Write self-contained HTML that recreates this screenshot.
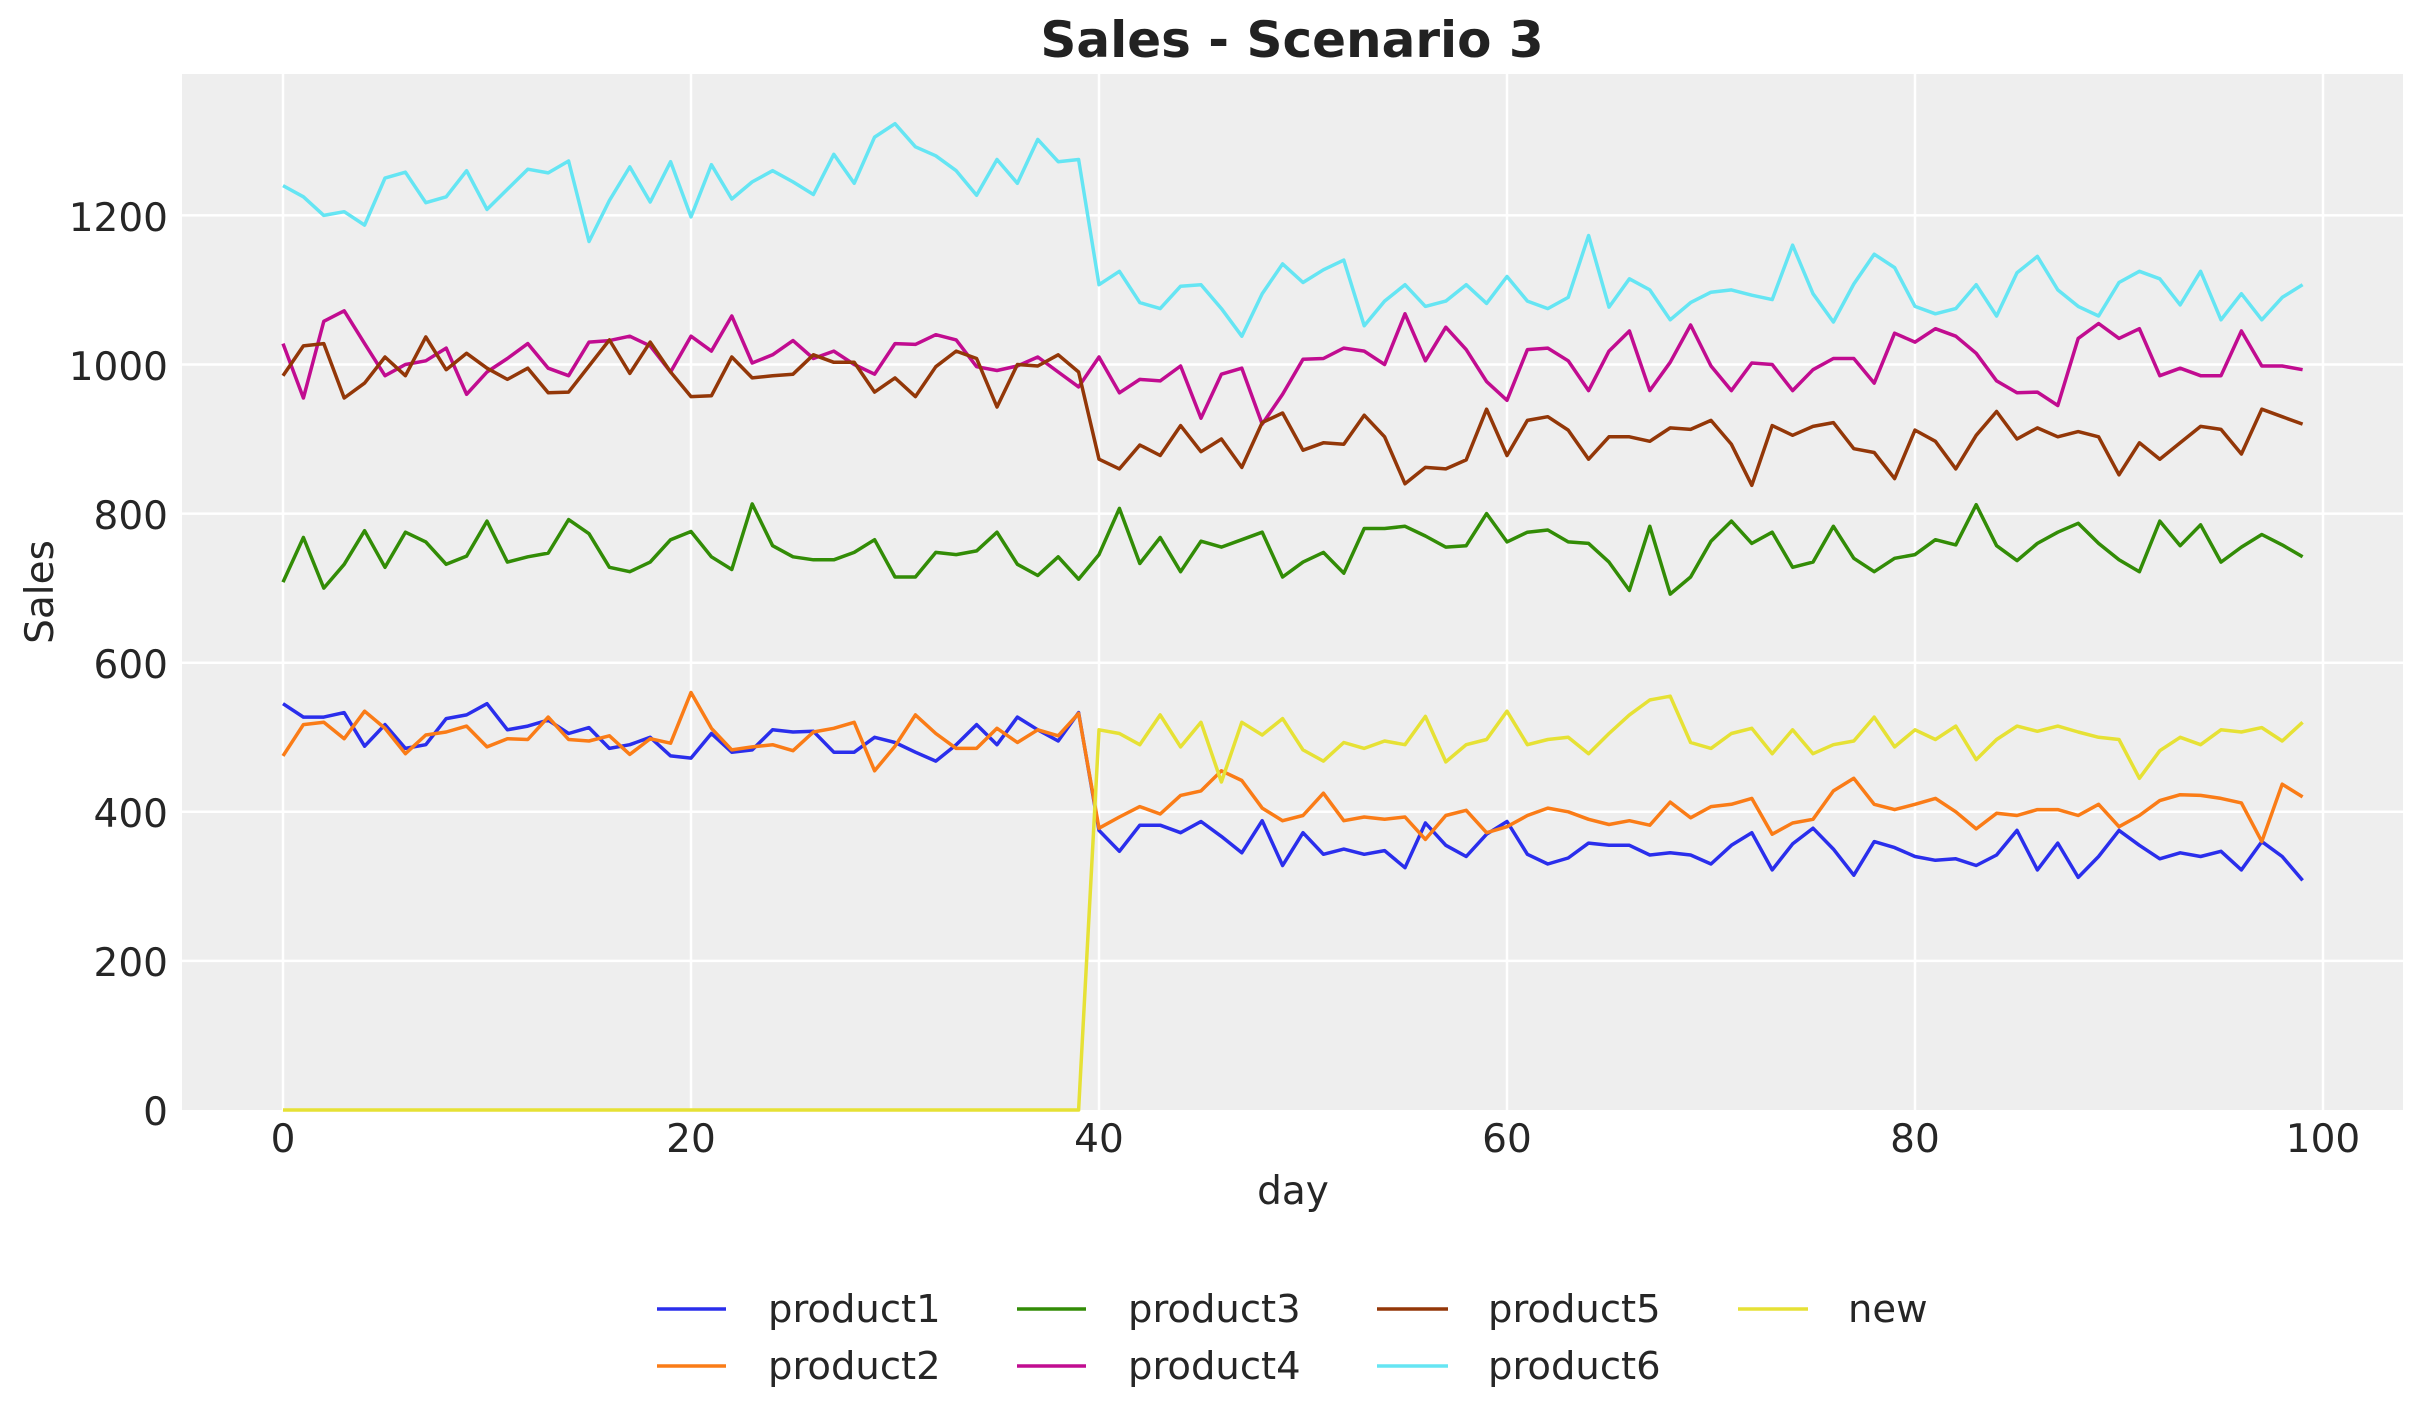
<!DOCTYPE html>
<html><head><meta charset="utf-8"><style>
html,body{margin:0;padding:0;background:#fff;}
svg{display:block;font-family:"DejaVu Sans","Liberation Sans",sans-serif;}
</style></head><body>
<svg id="s" width="2423" height="1423" viewBox="0 0 2423 1423" xmlns="http://www.w3.org/2000/svg">
<rect x="182" y="74" width="2221" height="1036" fill="#eeeeee"/>
<g id="grid"></g>
<g id="lines"></g>
<text x="1292" y="57" font-size="50" font-weight="bold" fill="#222" text-anchor="middle">Sales - Scenario 3</text>
<g font-size="39" fill="#262626" text-anchor="end">
<text x="168" y="1125">0</text><text x="168" y="976">200</text><text x="168" y="827">400</text><text x="168" y="678">600</text><text x="168" y="529">800</text><text x="168" y="380">1000</text><text x="168" y="231">1200</text>
</g>
<g font-size="39" fill="#262626" text-anchor="middle">
<text x="283" y="1152">0</text><text x="691" y="1152">20</text><text x="1099" y="1152">40</text><text x="1507" y="1152">60</text><text x="1915" y="1152">80</text><text x="2323" y="1152">100</text>
</g>
<text x="1293" y="1204" font-size="39" fill="#262626" text-anchor="middle">day</text>
<text transform="translate(53,592) rotate(-90)" font-size="39" fill="#262626" text-anchor="middle">Sales</text>
<g font-size="38.5" fill="#262626">
<line x1="657" y1="1309" x2="726" y2="1309" stroke="#2a2eec" stroke-width="3.5"/><text x="768" y="1322">product1</text>
<line x1="657" y1="1366" x2="726" y2="1366" stroke="#fa7c17" stroke-width="3.5"/><text x="768" y="1379">product2</text>
<line x1="1017" y1="1309" x2="1086" y2="1309" stroke="#328c06" stroke-width="3.5"/><text x="1128" y="1322">product3</text>
<line x1="1017" y1="1366" x2="1086" y2="1366" stroke="#c10c90" stroke-width="3.5"/><text x="1128" y="1379">product4</text>
<line x1="1377" y1="1309" x2="1448" y2="1309" stroke="#933708" stroke-width="3.5"/><text x="1488" y="1322">product5</text>
<line x1="1377" y1="1366" x2="1448" y2="1366" stroke="#65e5f3" stroke-width="3.5"/><text x="1488" y="1379">product6</text>
<line x1="1738" y1="1309" x2="1808" y2="1309" stroke="#e6e135" stroke-width="3.5"/><text x="1848" y="1322">new</text>
</g>
</svg>
<script>
var X=function(d){return 283+d*20.4},Y=function(v){return 1110-v*0.7455};
var g=document.getElementById('grid'),h='';
for(var d=0;d<=100;d+=20)h+='<line x1="'+X(d)+'" y1="74" x2="'+X(d)+'" y2="1110" stroke="#fff" stroke-width="2.5"/>';
for(var v=200;v<=1200;v+=200)h+='<line x1="182" y1="'+Y(v)+'" x2="2403" y2="'+Y(v)+'" stroke="#fff" stroke-width="2.5"/>';
g.innerHTML=h;
var S=[
["#65e5f3",[1240,1225,1200,1205,1187,1250,1258,1217,1225,1260,1208,1235,1262,1257,1273,1165,1220,1265,1218,1272,1198,1268,1222,1245,1260,1245,1228,1282,1243,1305,1323,1292,1280,1260,1227,1275,1243,1302,1272,1275,1107,1125,1083,1075,1105,1107,1075,1038,1095,1135,1110,1127,1140,1052,1085,1107,1078,1085,1107,1082,1118,1085,1075,1090,1173,1077,1115,1100,1060,1083,1097,1100,1093,1087,1160,1095,1057,1108,1148,1130,1078,1068,1075,1107,1065,1123,1145,1100,1078,1065,1110,1125,1115,1080,1125,1060,1095,1060,1090,1107]],
["#c10c90",[1028,955,1058,1072,1028,985,1000,1005,1022,960,990,1008,1028,995,985,1030,1032,1038,1025,990,1038,1018,1065,1002,1013,1032,1008,1018,1000,987,1028,1027,1040,1033,997,992,998,1010,990,970,1010,962,980,978,998,928,987,995,920,960,1007,1008,1022,1018,1000,1068,1005,1050,1020,977,952,1020,1022,1005,965,1018,1045,965,1003,1053,998,965,1002,1000,965,993,1008,1008,975,1042,1030,1048,1038,1015,978,962,963,945,1035,1055,1035,1048,985,995,985,985,1045,998,998,993]],
["#933708",[985,1025,1028,955,975,1010,985,1037,993,1015,995,980,995,962,963,998,1033,988,1030,990,957,958,1010,982,985,987,1013,1003,1003,963,982,957,997,1018,1008,943,1000,998,1013,990,873,860,892,878,918,883,900,862,922,935,885,895,893,932,903,840,862,860,872,940,878,925,930,912,873,903,903,897,915,913,925,893,838,918,905,917,922,887,882,847,912,897,860,905,937,900,915,903,910,903,852,895,873,895,917,913,880,940,930,920]],
["#328c06",[708,768,700,732,777,728,775,762,732,743,790,735,742,747,792,773,728,722,735,765,776,742,725,813,757,742,738,738,748,765,715,715,748,745,750,775,732,717,742,712,745,807,733,768,722,763,755,765,775,715,735,748,720,780,780,783,770,755,757,800,762,775,778,762,760,735,697,783,692,715,763,790,760,775,728,735,783,740,722,740,745,765,758,812,757,737,760,775,787,760,738,722,790,757,785,735,755,772,758,742]],
["#2a2eec",[545,527,527,533,488,517,485,490,525,530,545,510,515,523,505,513,485,490,500,475,472,505,480,483,510,507,508,480,480,500,493,480,468,490,517,490,527,510,495,533,375,347,382,382,372,387,367,345,388,328,372,343,350,343,348,325,385,355,340,370,387,343,330,338,358,355,355,342,345,342,330,355,372,322,357,378,350,315,360,352,340,335,337,328,342,375,322,358,312,340,375,355,337,345,340,347,322,360,340,308]],
["#fa7c17",[475,517,520,498,535,512,478,503,507,515,487,498,497,527,497,495,502,477,498,492,560,512,483,487,490,482,507,512,520,455,488,530,505,485,485,512,493,510,502,532,378,393,407,397,422,428,455,442,405,388,395,425,388,393,390,393,363,395,402,372,380,395,405,400,390,383,388,382,413,392,407,410,418,370,385,390,428,445,410,403,410,418,400,377,398,395,403,403,395,410,380,395,415,423,422,418,412,360,437,420]],
["#e6e135",[0,0,0,0,0,0,0,0,0,0,0,0,0,0,0,0,0,0,0,0,0,0,0,0,0,0,0,0,0,0,0,0,0,0,0,0,0,0,0,0,510,505,490,530,487,520,440,520,503,525,483,468,493,485,495,490,528,467,490,497,535,490,497,500,478,505,530,550,555,493,485,505,512,478,510,478,490,495,527,487,510,497,515,470,497,515,508,515,507,500,497,445,482,500,490,510,507,513,495,520]]
];
var l='';
S.forEach(function(s){var p=s[1].map(function(v,i){return X(i).toFixed(1)+','+Y(v).toFixed(1)}).join(' ');
l+='<polyline points="'+p+'" fill="none" stroke="'+s[0]+'" stroke-width="3.5" stroke-linejoin="round"/>';});
document.getElementById('lines').innerHTML=l;
</script>
</body></html>
